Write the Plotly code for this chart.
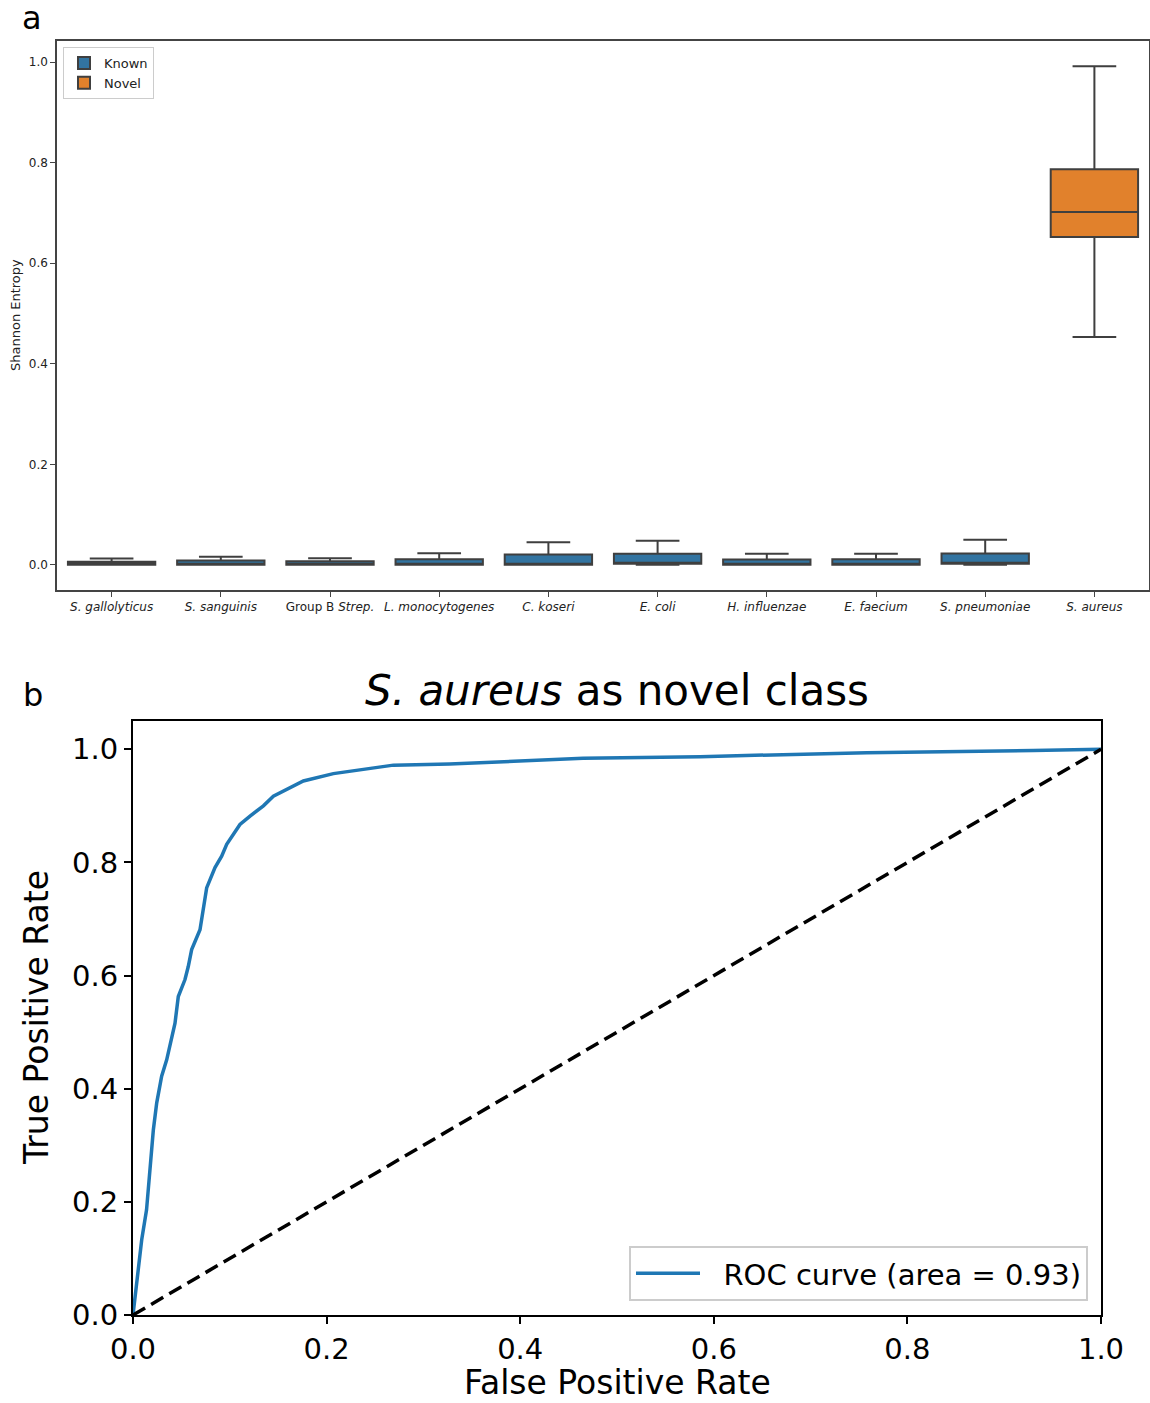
import plotly.graph_objects as go

# ---------------- data: panel a (box summary stats) ----------------
known_species = ["S. gallolyticus", "S. sanguinis", "Group B Strep.", "L. monocytogenes",
                 "C. koseri", "E. coli", "H. influenzae", "E. faecium", "S. pneumoniae"]
known_lower = [0.0, 0.0, 0.0, 0.0, 0.0, 0.0, 0.0, 0.0, 0.0]
known_q1 = [0.0, 0.0, 0.0, 0.0, 0.0, 0.002, 0.0, 0.0, 0.002]
known_median = [0.001, 0.001, 0.001, 0.001, 0.002, 0.003, 0.001, 0.001, 0.003]
known_q3 = [0.006, 0.0085, 0.007, 0.011, 0.0205, 0.022, 0.0105, 0.011, 0.0225]
known_upper = [0.0125, 0.016, 0.013, 0.023, 0.045, 0.048, 0.022, 0.022, 0.05]

novel_species = ["S. aureus"]
novel_lower = [0.453]
novel_q1 = [0.652]
novel_median = [0.702]
novel_q3 = [0.787]
novel_upper = [0.992]

all_species = known_species + novel_species
tick_labels = ["<i>S. gallolyticus</i>", "<i>S. sanguinis</i>", "Group B <i>Strep.</i>",
               "<i>L. monocytogenes</i>", "<i>C. koseri</i>", "<i>E. coli</i>",
               "<i>H. influenzae</i>", "<i>E. faecium</i>", "<i>S. pneumoniae</i>",
               "<i>S. aureus</i>"]

# ---------------- data: panel b (ROC curve) ----------------
fpr = [0.0, 0.002, 0.004, 0.009, 0.014, 0.0176, 0.021, 0.0245, 0.0296, 0.0348, 0.0417,
       0.0434, 0.0468, 0.0537, 0.0571, 0.0606, 0.0692, 0.0761, 0.0847, 0.0916, 0.0968,
       0.1105, 0.1209, 0.1347, 0.145, 0.1588, 0.176, 0.207, 0.241, 0.269, 0.327, 0.396,
       0.465, 0.586, 0.637, 0.758, 0.93, 1.0]
tpr = [0.0, 0.03, 0.068, 0.133, 0.186, 0.262, 0.327, 0.375, 0.422, 0.451, 0.504,
       0.516, 0.563, 0.593, 0.616, 0.646, 0.681, 0.755, 0.791, 0.811, 0.832,
       0.867, 0.882, 0.900, 0.917, 0.929, 0.944, 0.957, 0.965, 0.972, 0.974, 0.979,
       0.984, 0.987, 0.989, 0.994, 0.998, 1.0]
chance_x = [0.0, 1.0]
chance_y = [0.0, 1.0]
roc_auc = 0.93

W, H = 1150, 1403
def px_x(p):
    return p / W
def px_y(p):
    return 1 - p / H

KNOWN = "#3274a1"
NOVEL = "#e1812c"
EDGE = "#3f3f3f"
FONT = "DejaVu Sans"

fig = go.Figure()

fig.add_trace(go.Box(
    name="Known", x=known_species, q1=known_q1, median=known_median, q3=known_q3,
    lowerfence=known_lower, upperfence=known_upper,
    fillcolor=KNOWN, line=dict(color=EDGE, width=2), whiskerwidth=0.5,
    boxpoints=False, xaxis="x", yaxis="y", legend="legend",
))
fig.add_trace(go.Box(
    name="Novel", x=novel_species, q1=novel_q1, median=novel_median, q3=novel_q3,
    lowerfence=novel_lower, upperfence=novel_upper,
    fillcolor=NOVEL, line=dict(color=EDGE, width=2), whiskerwidth=0.5,
    boxpoints=False, xaxis="x", yaxis="y", legend="legend",
))

fig.add_trace(go.Scatter(
    x=fpr, y=tpr, mode="lines", name="\u00a0\u00a0ROC curve (area = %0.2f)" % roc_auc,
    line=dict(color="#1f77b4", width=3.5), xaxis="x2", yaxis="y2", legend="legend2",
))
fig.add_trace(go.Scatter(
    x=chance_x, y=chance_y, mode="lines", showlegend=False,
    line=dict(color="black", width=3.5, dash="14px,7px"), xaxis="x2", yaxis="y2",
))

fig.update_layout(
    width=W, height=H,
    margin=dict(l=0, r=0, t=0, b=0, autoexpand=False),
    paper_bgcolor="white", plot_bgcolor="white",
    font=dict(family=FONT, color="black"),
    boxmode="overlay", boxgap=0.2, boxgroupgap=0,
    xaxis=dict(
        domain=[px_x(57), px_x(1149)], anchor="y", automargin=False,
        categoryorder="array", categoryarray=all_species, tickangle=0,
        range=[-0.5, 9.5], tickmode="array", tickvals=all_species, ticktext=tick_labels,
        tickfont=dict(size=12, color="#222"), ticks="outside", ticklen=5, tickcolor="#444",
        showline=True, mirror=True, linecolor="#444", linewidth=1.5, showgrid=False, zeroline=False,
    ),
    yaxis=dict(
        domain=[px_y(590), px_y(41)], anchor="x", automargin=False,
        range=[-0.05, 1.042], tickvals=[0.0, 0.2, 0.4, 0.6, 0.8, 1.0],
        tickformat=".1f", tickfont=dict(size=12, color="#222"), ticks="outside", ticklen=5,
        tickcolor="#444", showline=True, mirror=True, linecolor="#444", linewidth=1.5,
        showgrid=False, zeroline=False,
    ),
    xaxis2=dict(
        domain=[px_x(133), px_x(1101)], anchor="y2", automargin=False,
        range=[0, 1], tickvals=[0, 0.2, 0.4, 0.6, 0.8, 1.0], tickformat=".1f", tickangle=0,
        tickfont=dict(size=29), ticks="outside", ticklen=7, tickwidth=2, tickcolor="black",
        showline=True, mirror=True, linecolor="black", linewidth=2, showgrid=False, zeroline=False,
    ),
    yaxis2=dict(
        domain=[px_y(1315), px_y(721)], anchor="x2", automargin=False,
        range=[0, 1.05], tickvals=[0, 0.2, 0.4, 0.6, 0.8, 1.0], tickformat=".1f",
        tickfont=dict(size=29), ticks="outside", ticklen=7, tickwidth=2, tickcolor="black",
        showline=True, mirror=True, linecolor="black", linewidth=2, showgrid=False, zeroline=False,
    ),
    legend=dict(
        x=px_x(63), y=px_y(47), xanchor="left", yanchor="top",
        bgcolor="white", bordercolor="#cccccc", borderwidth=1,
        font=dict(size=13, color="#222"), tracegroupgap=0,
    ),
    legend2=dict(
        x=px_x(1088), y=px_y(1301), xanchor="right", yanchor="bottom",
        bgcolor="white", bordercolor="#cccccc", borderwidth=2,
        font=dict(size=29), itemwidth=64,
    ),
    annotations=[
        dict(text="a", x=px_x(32), y=px_y(18), xref="paper", yref="paper",
             showarrow=False, font=dict(size=32), xanchor="center", yanchor="middle"),
        dict(text="b", x=px_x(33), y=px_y(695), xref="paper", yref="paper",
             showarrow=False, font=dict(size=32), xanchor="center", yanchor="middle"),
        dict(text="Shannon Entropy", x=px_x(16), y=px_y(315), xref="paper", yref="paper",
             showarrow=False, textangle=-90, font=dict(size=13, color="#222"),
             xanchor="center", yanchor="middle"),
        dict(text="<i>S.</i> <i>aureus</i> as novel class", x=px_x(617), y=px_y(690),
             xref="paper", yref="paper", showarrow=False, font=dict(size=42),
             xanchor="center", yanchor="middle"),
        dict(text="True Positive Rate", x=px_x(36), y=px_y(1018), xref="paper", yref="paper",
             showarrow=False, textangle=-90, font=dict(size=33),
             xanchor="center", yanchor="middle"),
        dict(text="False Positive Rate", x=px_x(617), y=px_y(1382), xref="paper", yref="paper",
             showarrow=False, font=dict(size=33), xanchor="center", yanchor="middle"),
    ],
)

fig.write_html("out.html")
